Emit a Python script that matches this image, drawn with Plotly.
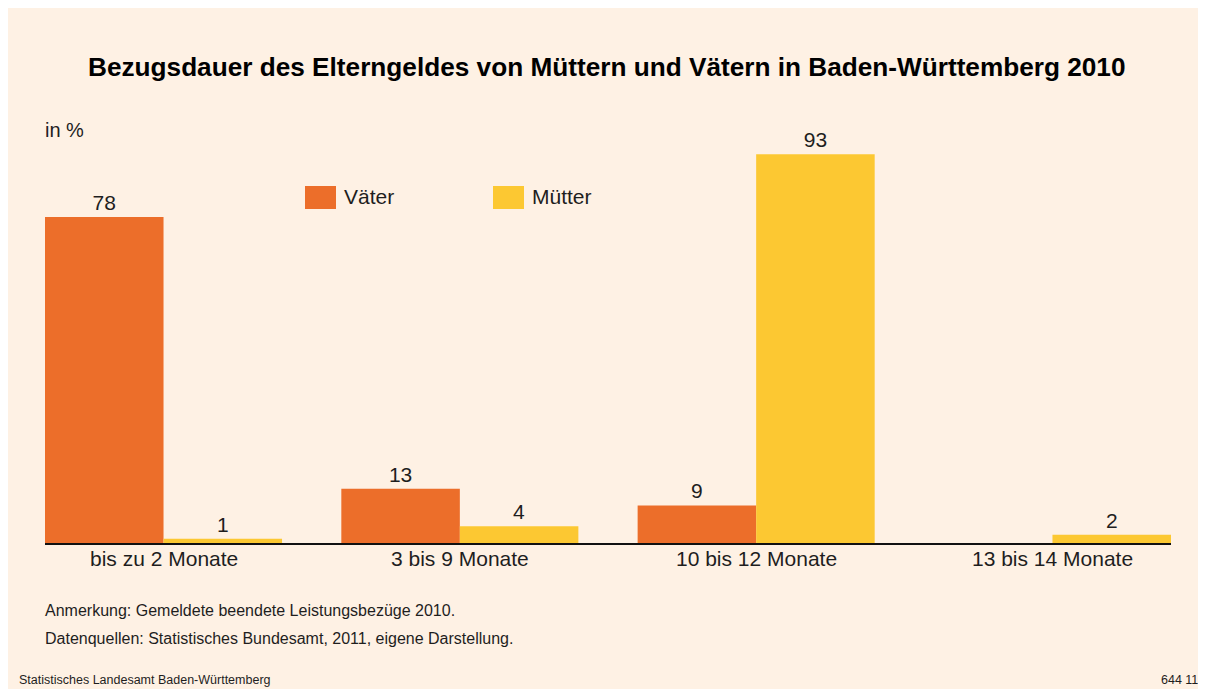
import plotly.graph_objects as go

categories = ["bis zu 2 Monate", "3 bis 9 Monate", "10 bis 12 Monate", "13 bis 14 Monate"]
vaeter = [78, 13, 9, None]
muetter = [1, 4, 93, 2]
series_names = ["Väter", "Mütter"]

OFF = 8  # page body margin
W, H = 1206 - OFF, 689 - OFF
# plot area in page pixels
L, R, T, B = 45, 1171, 125, 543
FONT = "Liberation Sans, Arial, sans-serif"
ORANGE = "#EC6E2A"
YELLOW = "#FCC832"
BG = "#FEF1E4"
TXT = "#1e1e1e"


def px(x):
    return (x - L) / (R - L)


def py(y):
    return (B - y) / (B - T)


fig = go.Figure()
for name, vals, col in [(series_names[0], vaeter, ORANGE), (series_names[1], muetter, YELLOW)]:
    fig.add_trace(go.Bar(
        x=categories, y=vals, name=name, marker=dict(color=col, line=dict(width=0)),
        text=[("" if v is None else str(v)) for v in vals], textposition="outside",
        textfont=dict(family=FONT, size=21, color=TXT), cliponaxis=False, showlegend=False,
    ))

shapes = [
    dict(type="rect", xref="paper", yref="paper", x0=px(305), x1=px(336), y0=py(209), y1=py(186),
         fillcolor=ORANGE, line=dict(width=0)),
    dict(type="rect", xref="paper", yref="paper", x0=px(493), x1=px(524), y0=py(209), y1=py(186),
         fillcolor=YELLOW, line=dict(width=0)),
]


def ann(text, x, y, size, xanchor="left", bold=False):
    return dict(text=("<b>%s</b>" % text) if bold else text, xref="paper", yref="paper",
                x=px(x), y=py(y), xanchor=xanchor, yanchor="middle", showarrow=False,
                font=dict(family=FONT, size=size, color="#000" if bold else TXT))


annotations = [
    ann("Bezugsdauer des Elterngeldes von Müttern und Vätern in Baden-Württemberg 2010", 607, 67, 26.2, "center", True),
    ann("in %", 43, 130, 20),
    ann(series_names[0], 342, 196, 21),
    ann(series_names[1], 530, 196, 21),
    ann("Anmerkung: Gemeldete beendete Leistungsbezüge 2010.", 43, 610, 16),
    ann("Datenquellen: Statistisches Bundesamt, 2011, eigene Darstellung.", 43, 638, 16),
    ann("Statistisches Landesamt Baden-Württemberg", 17, 680, 12.5),
    ann("644 11", 1200, 680, 12.5, "right"),
]
# category labels under the axis
for c in categories:
    annotations.append(dict(text=c, xref="x", yref="paper", x=c, y=py(558), xanchor="center",
                            yanchor="middle", showarrow=False,
                            font=dict(family=FONT, size=21, color=TXT)))

fig.update_layout(
    width=W, height=H, paper_bgcolor=BG, plot_bgcolor="rgba(0,0,0,0)",
    margin=dict(l=L - OFF, r=1206 - R, t=T - OFF, b=689 - B, pad=0),
    barmode="group", bargap=0.2, bargroupgap=0,
    shapes=shapes, annotations=annotations,
    xaxis=dict(range=[-0.4, 3.4], showline=True, linecolor="#111", linewidth=2, ticks="",
               showticklabels=False, showgrid=False, zeroline=False),
    yaxis=dict(range=[0, 100], visible=False, showgrid=False, zeroline=False),
)

fig.write_html(
    "out.html",
    post_script="document.documentElement.style.overflow='hidden';document.body.style.overflow='hidden';",
)
